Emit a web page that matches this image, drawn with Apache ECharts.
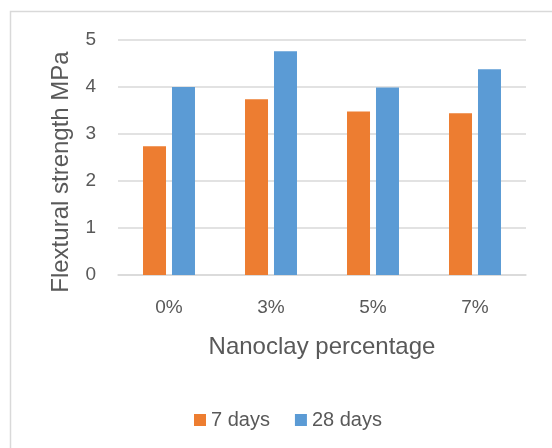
<!DOCTYPE html>
<html>
<head>
<meta charset="utf-8">
<script src="https://cdn.jsdelivr.net/npm/echarts@6/dist/echarts.min.js"></script>
<style>
  html, body { margin: 0; padding: 0; background: #fff; }
  #chart { width: 552px; height: 448px; }
</style>
</head>
<body>
<div id="chart"></div>
<script>
// Flexural strength by nanoclay content, 7 and 28 day curing
const categories = ['0%', '3%', '5%', '7%'];
const days7 = [2.74, 3.74, 3.48, 3.44];
const days28 = [4.00, 4.76, 3.99, 4.38];
const yTicks = [0, 1, 2, 3, 4, 5];

const FONT = 'Liberation Sans';
const TEXT = '#595959';
const GRID = '#d9d9d9';

const chart = echarts.init(document.getElementById('chart'), null, { renderer: 'canvas' });

chart.setOption({
  animation: false,
  backgroundColor: '#ffffff',
  textStyle: { fontFamily: FONT, color: TEXT },
  graphic: [
    {
      type: 'rect',
      shape: { x: 10.5, y: 11.5, width: 700, height: 600 },
      style: { fill: 'none', stroke: GRID, lineWidth: 1.5 },
      silent: true
    },
    {
      // value axis title, rotated
      type: 'text',
      x: 61,
      y: 172,
      rotation: Math.PI / 2,
      style: {
        text: 'Flextural strength MPa',
        fontFamily: FONT,
        fontSize: 24,
        fill: TEXT,
        align: 'center',
        verticalAlign: 'middle'
      },
      silent: true
    }
  ],
  grid: { left: 118, right: 26, top: 40, bottom: 173, containLabel: false },
  legend: {
    left: 189,
    top: 405,
    itemWidth: 12,
    itemHeight: 12,
    itemGap: 25,
    icon: 'rect',
    textStyle: { fontFamily: FONT, fontSize: 20, color: TEXT },
    data: ['7 days', '28 days']
  },
  xAxis: {
    type: 'category',
    data: categories,
    name: 'Nanoclay percentage',
    nameLocation: 'middle',
    nameGap: 60,
    nameTextStyle: { fontFamily: FONT, fontSize: 24, color: TEXT },
    axisTick: { show: false },
    axisLine: { lineStyle: { color: GRID, width: 1.5 } },
    axisLabel: { fontFamily: FONT, fontSize: 19, color: TEXT, margin: 23 }
  },
  yAxis: {
    type: 'value',
    min: yTicks[0],
    max: yTicks[yTicks.length - 1],
    interval: 1,
    axisLine: { show: false },
    axisTick: { show: false },
    splitLine: { lineStyle: { color: GRID, width: 1.5 } },
    axisLabel: { fontFamily: FONT, fontSize: 19, color: TEXT, margin: 22 }
  },
  series: [
    {
      name: '7 days',
      type: 'bar',
      data: days7,
      barWidth: 23,
      barGap: '26%',
      itemStyle: { color: '#ED7D31' }
    },
    {
      name: '28 days',
      type: 'bar',
      data: days28,
      barWidth: 23,
      barGap: '26%',
      itemStyle: { color: '#5B9BD5' }
    }
  ]
});
</script>
</body>
</html>
